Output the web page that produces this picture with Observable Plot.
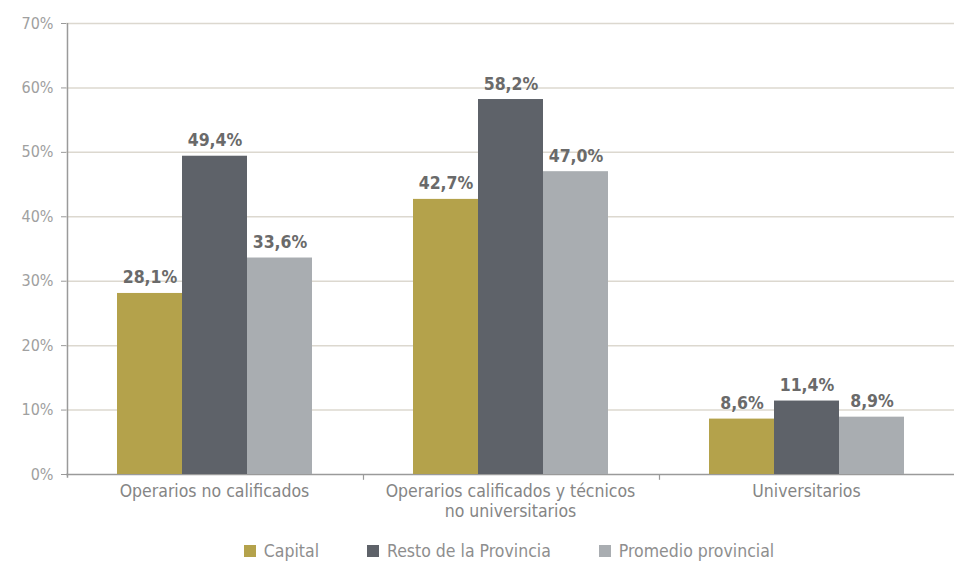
<!DOCTYPE html>
<html>
<head>
<meta charset="utf-8">
<script src="https://cdn.jsdelivr.net/npm/d3@7"></script>
<script src="https://cdn.jsdelivr.net/npm/@observablehq/plot@0.6"></script>
<style>
  body { margin: 0; background: #fff; font-family: "Liberation Sans Narrow", "DejaVu Sans Condensed", "Roboto", sans-serif; }
  #legend { display: flex; justify-content: center; align-items: center; gap: 48px; height: 42px; font-size: 17.5px; color: #8e8e8e; padding-left: 64px; }
  #legend .item { display: flex; align-items: center; gap: 8px; }
  #legend .sw { width: 12px; height: 12px; display: inline-block; }
</style>
</head>
<body>
<div id="chart"></div>
<div id="legend"></div>
<script>
const groups = ["Operarios no calificados", "Operarios calificados y técnicos\nno universitarios", "Universitarios"];
const series = ["Capital", "Resto de la Provincia", "Promedio provincial"];
const capital = [28.1, 42.7, 8.6];
const resto = [49.4, 58.2, 11.4];
const promedio = [33.6, 47.0, 8.9];
const yTicks = [0, 10, 20, 30, 40, 50, 60, 70];
const colors = ["#b4a24b", "#5e6269", "#a9adb1"];

const seriesValues = [capital, resto, promedio];
const data = groups.flatMap((g, i) => series.map((s, j) => ({group: g, series: s, value: seriesValues[j][i]})));

const W = 954, H = 530, ML = 66, MR = 0, MT = 23, MB = 56;
const po = 0.76;
const facetW = (W - ML - MR) / groups.length;
const step = facetW / (series.length + 2 * po);
const edgeDx = -(po * step + step / 2);
const font = '"Liberation Sans Narrow", "DejaVu Sans Condensed", "Roboto", sans-serif';

const chart = Plot.plot({
  width: W, height: H,
  marginTop: MT, marginLeft: ML, marginRight: MR, marginBottom: MB,
  style: {fontFamily: font, background: "#fff", overflow: "visible"},
  fx: {domain: groups, padding: 0, label: null, axis: null},
  x: {domain: series, paddingInner: 0, paddingOuter: po, axis: null},
  y: {domain: [0, 70], axis: null},
  color: {domain: series, range: colors},
  marks: [
    Plot.gridY(yTicks.filter(d => d > 0), {stroke: "#dcd8cf", strokeOpacity: 1, strokeWidth: 1.5}),
    Plot.ruleY([0], {stroke: "#9a9a9a", strokeWidth: 1.5}),
    Plot.ruleX([groups[0]], {fx: d => d, x: () => "Capital", dx: edgeDx, y1: -0.6, y2: 70, stroke: "#9a9a9a", strokeWidth: 1.5}),
    Plot.ruleX(groups.slice(1), {fx: d => d, x: () => "Capital", dx: edgeDx, y1: -0.9, y2: 0, stroke: "#9a9a9a", strokeWidth: 1.2}),
    Plot.axisY({ticks: yTicks, tickFormat: d => d + "%", tickSize: 5, tickPadding: 8, fontSize: 16, color: "#a0a0a0", stroke: "#9a9a9a", label: null}),
    Plot.barY(data, {fx: "group", x: "series", y: "value", fill: "series"}),
    Plot.text(data, {fx: "group", x: "series", y: "value", text: d => d.value.toFixed(1).replace(".", ",") + "%", lineAnchor: "bottom", dy: -10, fontSize: 17.5, fontWeight: "bold", fill: "#6a6a6a"}),
    Plot.axisFx({anchor: "bottom", tickSize: 0, tickPadding: 9, fontSize: 17.5, color: "#858585", label: null, lineHeight: 1.12})
  ]
});
document.getElementById("chart").append(chart);

const legend = document.getElementById("legend");
series.forEach((s, i) => {
  const item = document.createElement("div");
  item.className = "item";
  const sw = document.createElement("span");
  sw.className = "sw";
  sw.style.background = colors[i];
  const t = document.createElement("span");
  t.textContent = s;
  item.append(sw, t);
  legend.append(item);
});
</script>
</body>
</html>
